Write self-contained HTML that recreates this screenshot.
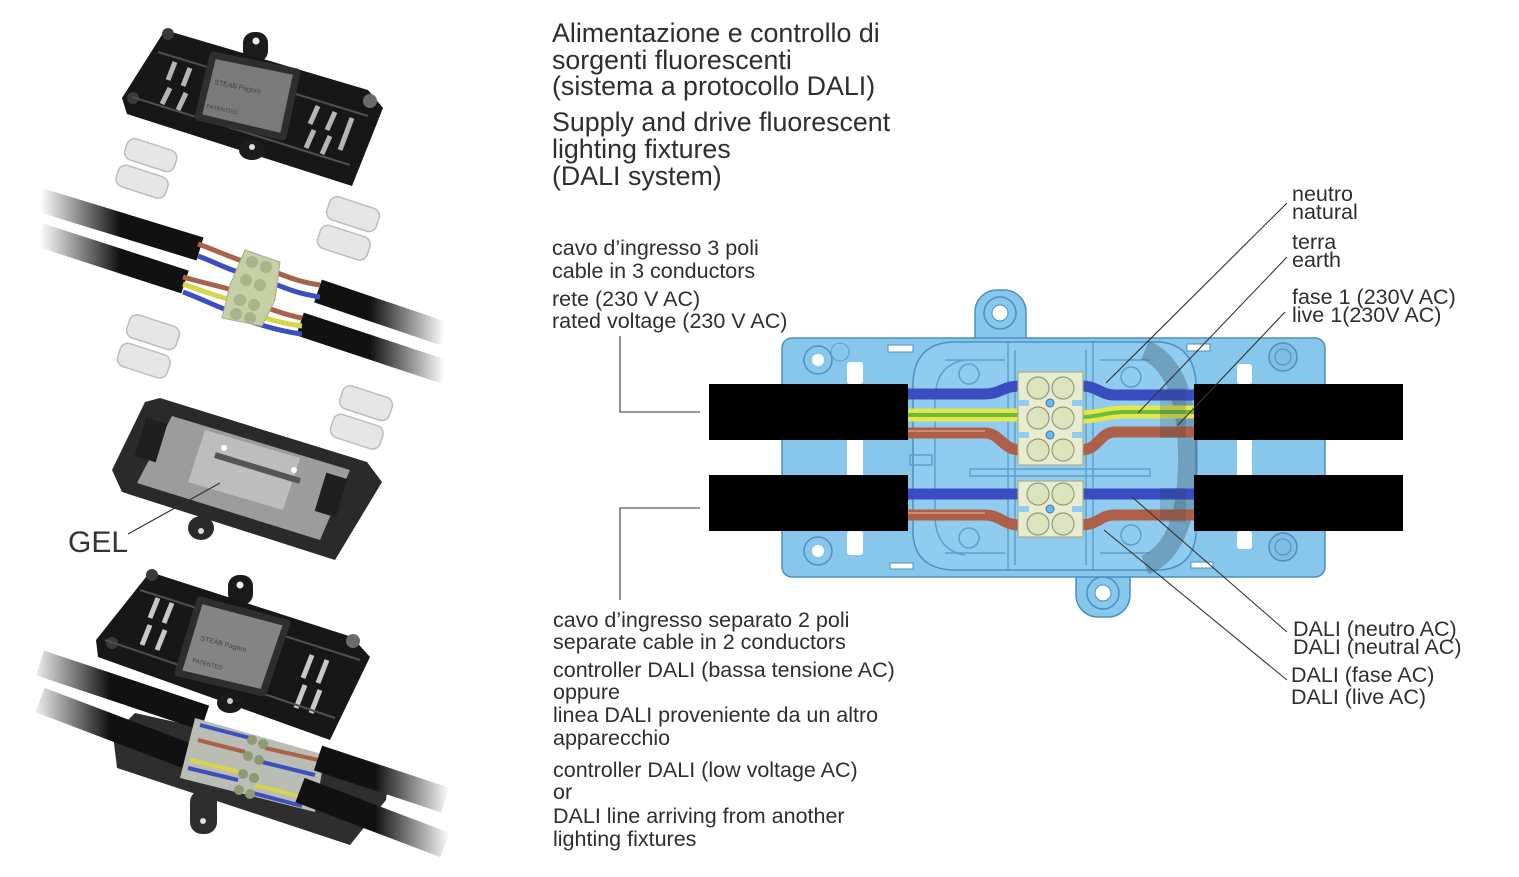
<!DOCTYPE html>
<html><head><meta charset="utf-8">
<style>
html,body{margin:0;padding:0;background:#fff;}
svg{display:block;}
text{font-family:"Liberation Sans",Arial,sans-serif;fill:#2e2e2e;}
</style></head>
<body>
<svg width="1519" height="877" viewBox="0 0 1519 877" xmlns="http://www.w3.org/2000/svg">
<defs>
  <linearGradient id="fadeL1" gradientUnits="userSpaceOnUse" x1="40" y1="0" x2="120" y2="0">
    <stop offset="0" stop-color="#fff"/><stop offset="1" stop-color="#111"/></linearGradient>
  <linearGradient id="fadeR1" gradientUnits="userSpaceOnUse" x1="370" y1="0" x2="445" y2="0">
    <stop offset="0" stop-color="#111"/><stop offset="1" stop-color="#fff"/></linearGradient>
  <linearGradient id="fadeL2" gradientUnits="userSpaceOnUse" x1="30" y1="0" x2="110" y2="0">
    <stop offset="0" stop-color="#fff"/><stop offset="1" stop-color="#111"/></linearGradient>
  <linearGradient id="fadeR2" gradientUnits="userSpaceOnUse" x1="375" y1="0" x2="450" y2="0">
    <stop offset="0" stop-color="#111"/><stop offset="1" stop-color="#fff"/></linearGradient>
</defs>

<!-- ================= LEFT PHOTOS ================= -->
<!-- Top cover -->
<g>
  <rect x="243" y="32" width="25" height="30" rx="11" fill="#1c1c1c"/>
  <circle cx="256" cy="41" r="3.5" fill="#eee"/>
  <polygon points="165,30 368,90 383,108 352,186 127,114 122,98" fill="#171717"/>
  <ellipse cx="252" cy="150" rx="13" ry="10" fill="#1c1c1c"/>
  <circle cx="252" cy="147" r="3" fill="#ddd"/>
  <circle cx="168" cy="34" r="6" fill="#3a3a3a"/>
  <circle cx="133" cy="98" r="6" fill="#3a3a3a"/>
  <g stroke="#b5b5b5" stroke-width="5" fill="none">
    <line x1="175" y1="62" x2="168" y2="80"/>
    <line x1="190" y1="68" x2="183" y2="86"/>
    <line x1="170" y1="88" x2="162" y2="104"/>
    <line x1="186" y1="93" x2="178" y2="110"/>
    <line x1="318" y1="106" x2="310" y2="124"/>
    <line x1="335" y1="112" x2="327" y2="130"/>
    <line x1="314" y1="130" x2="306" y2="148"/>
    <line x1="330" y1="136" x2="322" y2="154"/>
    <line x1="352" y1="118" x2="340" y2="150"/>
  </g>
  <g stroke="#505050" stroke-width="2" fill="none">
    <line x1="132" y1="97" x2="350" y2="165"/>
    <line x1="158" y1="52" x2="368" y2="116"/>
  </g>
  <polygon points="213,55 297,72 283,137 198,117" fill="#7a7a7a" stroke="#2e2e2e" stroke-width="7" stroke-linejoin="round"/>
  <text x="0" y="0" font-size="7" transform="translate(214,84) rotate(12)" style="fill:#444">STEAB Pagoro</text>
  <text x="0" y="0" font-size="6" transform="translate(206,108) rotate(12)" style="fill:#444">PATENTED</text>
  <circle cx="370" cy="101" r="7" fill="#6a6a6a"/>
</g>

<!-- clips -->
<g fill="#e6e6e6" stroke="#bdbdbd" stroke-width="1.5">
  <g transform="translate(148,170) rotate(18)">
    <rect x="-28" y="-26" width="52" height="22" rx="8"/>
    <rect x="-28" y="2" width="52" height="22" rx="8"/>
  </g>
  <g transform="translate(350,230) rotate(18)">
    <rect x="-28" y="-28" width="52" height="24" rx="8"/>
    <rect x="-28" y="2" width="52" height="24" rx="8"/>
  </g>
  <g transform="translate(150,348) rotate(18)">
    <rect x="-28" y="-28" width="52" height="24" rx="8"/>
    <rect x="-28" y="2" width="52" height="24" rx="8"/>
  </g>
  <g transform="translate(363,419) rotate(18)">
    <rect x="-28" y="-28" width="52" height="24" rx="8"/>
    <rect x="-28" y="2" width="52" height="24" rx="8"/>
  </g>
</g>

<!-- cables & wires (exploded) -->
<g stroke-linecap="butt" fill="none">
  <line x1="40" y1="200" x2="200" y2="249" stroke="url(#fadeL1)" stroke-width="24"/>
  <line x1="40" y1="235" x2="185" y2="282" stroke="url(#fadeL1)" stroke-width="24"/>
  <line x1="318" y1="291" x2="445" y2="334" stroke="url(#fadeR1)" stroke-width="24"/>
  <line x1="300" y1="324" x2="445" y2="372" stroke="url(#fadeR1)" stroke-width="24"/>
  <path d="M198 244 C215 250 225 255 245 262" stroke="#a96248" stroke-width="5"/>
  <path d="M198 256 C215 262 228 270 245 274" stroke="#3c4fc0" stroke-width="5"/>
  <path d="M183 277 C200 282 215 285 232 290" stroke="#a96248" stroke-width="5"/>
  <path d="M183 284 C200 290 215 296 232 300" stroke="#d6d64a" stroke-width="5"/>
  <path d="M183 292 C200 298 215 306 232 312" stroke="#3c4fc0" stroke-width="5"/>
  <path d="M270 270 C290 278 300 282 320 285" stroke="#a96248" stroke-width="5"/>
  <path d="M272 283 C290 290 300 294 320 297" stroke="#3c4fc0" stroke-width="5"/>
  <path d="M258 305 C275 310 285 315 302 318" stroke="#a96248" stroke-width="5"/>
  <path d="M255 315 C272 320 285 324 302 326" stroke="#d6d64a" stroke-width="5"/>
  <path d="M252 322 C270 328 285 332 302 334" stroke="#3c4fc0" stroke-width="5"/>
</g>
<polygon points="245,250 280,262 275,300 262,326 222,318 230,285" fill="#c6cfa6" stroke="#a7ae8a"/>
<g fill="#aab48a">
  <circle cx="252" cy="262" r="6"/><circle cx="266" cy="267" r="6"/>
  <circle cx="246" cy="280" r="6"/><circle cx="260" cy="285" r="6"/>
  <circle cx="240" cy="300" r="6"/><circle cx="254" cy="305" r="6"/>
  <circle cx="236" cy="314" r="6"/><circle cx="250" cy="318" r="6"/>
</g>

<!-- Open base -->
<g>
  <ellipse cx="201" cy="528" rx="13" ry="12" fill="#2a2a2a"/>
  <circle cx="201" cy="531" r="3" fill="#ddd"/>
  <polygon points="160,398 367,462 382,482 335,560 122,492 112,470 145,402" fill="#2a2a2a"/>
  <polygon points="172,416 350,470 320,540 137,483" fill="#9c9c9c"/>
  <polygon points="205,430 300,458 283,510 188,482" fill="#bdbdbd"/>
  <line x1="215" y1="455" x2="300" y2="481" stroke="#555" stroke-width="6"/>
  <g fill="#1f1f1f">
    <rect x="140" y="420" width="22" height="40" transform="rotate(17 151 440)"/>
    <rect x="320" y="475" width="22" height="40" transform="rotate(17 331 495)"/>
  </g>
  <circle cx="224" cy="448" r="3" fill="#fff"/>
  <circle cx="294" cy="470" r="3" fill="#fff"/>
</g>
<text x="68" y="552" font-size="30" style="fill:#333">GEL</text>
<line x1="128" y1="534" x2="220" y2="483" stroke="#333" stroke-width="1.2"/>

<!-- Assembled -->
<g>
  <rect x="190" y="790" width="27" height="44" rx="12" fill="#2e2e2e"/>
  <circle cx="203" cy="821" r="3" fill="#ddd"/>
  <polygon points="135,713 390,770 386,800 350,845 117,768 113,735" fill="#2e2e2e"/>
  <line x1="40" y1="663" x2="205" y2="718" stroke="url(#fadeL2)" stroke-width="26"/>
  <line x1="40" y1="700" x2="190" y2="757" stroke="url(#fadeL2)" stroke-width="26"/>
  <polygon points="195,718 325,755 315,812 180,778" fill="#b9bdb4"/>
  <g fill="none" stroke-width="4">
    <path d="M200 725 L250 738" stroke="#3c4fc0"/>
    <path d="M198 740 L245 752" stroke="#a96248"/>
    <path d="M190 760 L240 772" stroke="#d6d64a"/>
    <path d="M188 768 L238 780" stroke="#3c4fc0"/>
    <path d="M265 748 L318 760" stroke="#a96248"/>
    <path d="M262 762 L315 775" stroke="#3c4fc0"/>
    <path d="M255 785 L305 798" stroke="#d6d64a"/>
    <path d="M253 793 L302 806" stroke="#3c4fc0"/>
  </g>
  <g fill="#8e9a73">
    <circle cx="252" cy="740" r="5"/><circle cx="263" cy="744" r="5"/>
    <circle cx="248" cy="756" r="5"/><circle cx="259" cy="760" r="5"/>
    <circle cx="243" cy="774" r="5"/><circle cx="254" cy="778" r="5"/>
    <circle cx="239" cy="790" r="5"/><circle cx="250" cy="794" r="5"/>
  </g>
  <line x1="318" y1="758" x2="445" y2="800" stroke="url(#fadeR2)" stroke-width="26"/>
  <line x1="300" y1="790" x2="445" y2="845" stroke="url(#fadeR2)" stroke-width="26"/>
  <rect x="228" y="575" width="25" height="30" rx="11" fill="#1a1a1a"/>
  <circle cx="240" cy="585" r="3.5" fill="#eee"/>
  <polygon points="150,572 352,637 370,657 330,740 98,657 96,640" fill="#171717"/>
  <ellipse cx="230" cy="703" rx="13" ry="10" fill="#1a1a1a"/>
  <circle cx="230" cy="701" r="3" fill="#ccc"/>
  <circle cx="152" cy="575" r="6" fill="#3a3a3a"/>
  <circle cx="112" cy="643" r="6" fill="#3a3a3a"/>
  <g stroke="#c8c8c8" stroke-width="5">
    <line x1="158" y1="598" x2="150" y2="618"/>
    <line x1="172" y1="603" x2="164" y2="623"/>
    <line x1="150" y1="625" x2="142" y2="645"/>
    <line x1="165" y1="630" x2="157" y2="650"/>
    <line x1="312" y1="655" x2="303" y2="678"/>
    <line x1="327" y1="660" x2="318" y2="683"/>
    <line x1="305" y1="685" x2="296" y2="708"/>
    <line x1="320" y1="690" x2="311" y2="713"/>
  </g>
  <g stroke="#505050" stroke-width="2" fill="none">
    <line x1="105" y1="640" x2="335" y2="718"/>
    <line x1="140" y1="590" x2="360" y2="660"/>
  </g>
  <polygon points="200,600 287,623 263,693 178,673" fill="#848484" stroke="#2e2e2e" stroke-width="7" stroke-linejoin="round"/>
  <text x="0" y="0" font-size="7" transform="translate(200,640) rotate(15)" style="fill:#444">STEAB Pagoro</text>
  <text x="0" y="0" font-size="6" transform="translate(192,662) rotate(15)" style="fill:#444">PATENTED</text>
  <circle cx="353" cy="641" r="7" fill="#6a6a6a"/>
</g>

<!-- ================= TITLES ================= -->
<g font-size="26.8">
  <text x="552" y="42">Alimentazione e controllo di</text>
  <text x="552" y="69">sorgenti fluorescenti</text>
  <text x="552" y="95">(sistema a protocollo DALI)</text>
  <text x="552" y="131">Supply and drive fluorescent</text>
  <text x="552" y="158">lighting fixtures</text>
  <text x="552" y="185">(DALI system)</text>
</g>

<g font-size="21.5">
  <text x="552" y="255">cavo d’ingresso 3 poli</text>
  <text x="552" y="278">cable in 3 conductors</text>
  <text x="552" y="306">rete (230 V AC)</text>
  <text x="552" y="328">rated voltage (230 V AC)</text>

  <text x="553" y="627">cavo d’ingresso separato 2 poli</text>
  <text x="553" y="649">separate cable in 2 conductors</text>
  <text x="553" y="677">controller DALI (bassa tensione AC)</text>
  <text x="553" y="699">oppure</text>
  <text x="553" y="722">linea DALI proveniente da un altro</text>
  <text x="553" y="745">apparecchio</text>
  <text x="553" y="777">controller DALI (low voltage AC)</text>
  <text x="553" y="799">or</text>
  <text x="553" y="823">DALI line arriving from another</text>
  <text x="553" y="846">lighting fixtures</text>

  <text x="1292" y="201">neutro</text>
  <text x="1292" y="219">natural</text>
  <text x="1292" y="249">terra</text>
  <text x="1292" y="267">earth</text>
  <text x="1292" y="304">fase 1 (230V AC)</text>
  <text x="1292" y="322">live 1(230V AC)</text>

  <text x="1293" y="636">DALI (neutro AC)</text>
  <text x="1293" y="654">DALI (neutral AC)</text>
  <text x="1291" y="682">DALI (fase AC)</text>
  <text x="1291" y="704">DALI (live AC)</text>
</g>

<!-- ================= BLUE BOX ================= -->
<g stroke="#4d8fc2" stroke-width="1.5">
  <rect x="975" y="290" width="51" height="70" rx="22" fill="#88c7ec"/>
  <rect x="1076" y="550" width="54" height="67" rx="22" fill="#88c7ec"/>
  <rect x="782" y="338" width="543" height="239" rx="10" fill="#88c7ec"/>
  <path d="M913 382 Q915 344 952 342 L1160 342 Q1193 345 1196 382 L1196 534 Q1193 568 1160 570 L952 570 Q915 568 913 534 Z" fill="#8fccef"/>
</g>
<circle cx="1000" cy="313" r="16" fill="none" stroke="#4d8fc2" stroke-width="1.5"/>
<circle cx="1000" cy="313" r="8" fill="#fff" stroke="#4d8fc2"/>
<circle cx="1103" cy="593" r="16" fill="none" stroke="#4d8fc2" stroke-width="1.5"/>
<circle cx="1103" cy="593" r="8" fill="#fff" stroke="#4d8fc2"/>
<circle cx="818" cy="360" r="14" fill="none" stroke="#4d8fc2" stroke-width="1.5"/>
<circle cx="818" cy="360" r="6" fill="#fff"/>
<circle cx="840" cy="352" r="9" fill="none" stroke="#5d9fcf"/>
<circle cx="818" cy="551" r="14" fill="none" stroke="#4d8fc2" stroke-width="1.5"/>
<circle cx="818" cy="551" r="6" fill="#fff"/>
<circle cx="1283" cy="357" r="14" fill="#7fbde4" stroke="#4d8fc2" stroke-width="1.5"/>
<circle cx="1283" cy="357" r="8" fill="none" stroke="#4d8fc2"/>
<circle cx="1283" cy="547" r="14" fill="#7fbde4" stroke="#4d8fc2" stroke-width="1.5"/>
<circle cx="1283" cy="547" r="8" fill="none" stroke="#4d8fc2"/>
<g fill="#fff">
  <rect x="847" y="362" width="16" height="22" rx="3"/>
  <rect x="847" y="440" width="16" height="35"/>
  <rect x="847" y="531" width="16" height="24" rx="3"/>
  <rect x="1237" y="364" width="15" height="20" rx="3"/>
  <rect x="1237" y="440" width="15" height="35"/>
  <rect x="1237" y="531" width="15" height="18" rx="3"/>
  <rect x="888" y="345" width="25" height="7" stroke="#4d8fc2"/>
  <rect x="890" y="563" width="23" height="6" stroke="#4d8fc2"/>
  <rect x="1187" y="344" width="23" height="7" stroke="#4d8fc2"/>
  <rect x="1191" y="562" width="22" height="6" stroke="#4d8fc2"/>
</g>
<g stroke="#5d9fcf" stroke-width="1.5" fill="none">
  <line x1="1008" y1="343" x2="1008" y2="569"/>
  <line x1="1093" y1="343" x2="1093" y2="569"/>
  <line x1="1015" y1="350" x2="1015" y2="565"/>
  <line x1="1086" y1="350" x2="1086" y2="565"/>
  <rect x="970" y="469" width="180" height="7"/>
  <line x1="945" y1="360" x2="1005" y2="360"/>
  <line x1="945" y1="553" x2="1005" y2="553"/>
  <path d="M935 400 Q935 365 965 360"/>
  <path d="M935 515 Q935 550 965 555"/>
  <line x1="935" y1="400" x2="935" y2="515"/>
  <line x1="1100" y1="360" x2="1150" y2="360"/>
  <line x1="1100" y1="553" x2="1150" y2="553"/>
  <rect x="910" y="455" width="22" height="10"/>
</g>
<g fill="#8fccef" stroke="#5d9fcf" stroke-width="1.5">
  <circle cx="969" cy="374" r="10"/>
  <circle cx="969" cy="538" r="10"/>
  <circle cx="1131" cy="377" r="10"/>
  <circle cx="1131" cy="535" r="10"/>
</g>
<path d="M1145 350 Q1188 368 1188 458 Q1188 548 1145 565" fill="none" stroke="#4a6b80" stroke-opacity="0.45" stroke-width="20"/>

<g fill="none" stroke-linecap="butt">
  <path d="M905 394 L985 394 C1000 394 1003 386 1020 386" stroke="#3a4cc0" stroke-width="11"/>
  <path d="M1081 386 C1098 386 1100 395 1115 395 L1200 395" stroke="#3a4cc0" stroke-width="11"/>
  <path d="M905 415 L1020 415" stroke="#e4e64a" stroke-width="13"/>
  <path d="M905 415 L1020 415" stroke="#6dbb3e" stroke-width="4"/>
  <path d="M1081 417 C1100 417 1105 412 1125 412 L1200 412" stroke="#e4e64a" stroke-width="13"/>
  <path d="M1081 417 C1100 417 1105 412 1125 412 L1200 412" stroke="#6dbb3e" stroke-width="4"/>
  <path d="M905 433 L985 433 C1000 433 1003 450 1020 450" stroke="#ad6047" stroke-width="11"/>
  <path d="M905 431 L985 431" stroke="#d08a70" stroke-width="2"/>
  <path d="M1081 450 C1098 450 1100 432 1115 432 L1200 432" stroke="#ad6047" stroke-width="11"/>
  <path d="M905 494 L1200 494" stroke="#3a4cc0" stroke-width="11"/>
  <path d="M905 515 L985 515 C1000 515 1003 525 1020 525" stroke="#ad6047" stroke-width="11"/>
  <path d="M905 513 L985 513" stroke="#d08a70" stroke-width="2"/>
  <path d="M1081 525 C1098 525 1100 515 1115 515 L1200 515" stroke="#ad6047" stroke-width="11"/>
</g>
<rect x="1160" y="388" width="26" height="50" fill="#2a3a4a" opacity="0.2"/>
<rect x="1160" y="488" width="26" height="34" fill="#2a3a4a" opacity="0.2"/>

<g stroke="#a8ae88" stroke-width="1.2">
  <rect x="1018" y="372" width="65" height="93" fill="#e7ecd1"/>
  <rect x="1018" y="481" width="65" height="56" fill="#e7ecd1"/>
</g>
<g fill="#8fccef">
  <rect x="1018" y="400" width="11" height="6"/><rect x="1072" y="400" width="11" height="6"/>
  <rect x="1018" y="432" width="11" height="6"/><rect x="1072" y="432" width="11" height="6"/>
  <rect x="1018" y="506" width="11" height="6"/><rect x="1072" y="506" width="11" height="6"/>
</g>
<g fill="#dbe3bf" stroke="#959b78" stroke-width="1.2">
  <circle cx="1038" cy="388" r="11"/><circle cx="1063" cy="388" r="11"/>
  <circle cx="1038" cy="418" r="11"/><circle cx="1063" cy="418" r="11"/>
  <circle cx="1038" cy="450" r="11"/><circle cx="1063" cy="450" r="11"/>
  <circle cx="1038" cy="494" r="11"/><circle cx="1063" cy="494" r="11"/>
  <circle cx="1038" cy="524" r="11"/><circle cx="1063" cy="524" r="11"/>
</g>
<g fill="#6db5e5" stroke="#3a7bb0">
  <circle cx="1050" cy="403" r="4"/>
  <circle cx="1050" cy="435" r="4"/>
  <circle cx="1050" cy="509" r="4"/>
</g>

<g fill="#000">
  <rect x="709" y="384" width="199" height="56"/>
  <rect x="709" y="475" width="199" height="56"/>
  <rect x="1194" y="384" width="209" height="56"/>
  <rect x="1194" y="475" width="209" height="56"/>
</g>

<g stroke="#333" stroke-width="1.1" fill="none">
  <polyline points="620,336 620,412 700,412"/>
  <polyline points="620,600 620,508 700,508"/>
  <line x1="1287" y1="203" x2="1106" y2="383"/>
  <line x1="1287" y1="257" x2="1138" y2="413"/>
  <line x1="1285" y1="312" x2="1178" y2="425"/>
  <line x1="1287" y1="632" x2="1132" y2="497"/>
  <line x1="1287" y1="680" x2="1104" y2="530"/>
</g>
</svg>
</body></html>
